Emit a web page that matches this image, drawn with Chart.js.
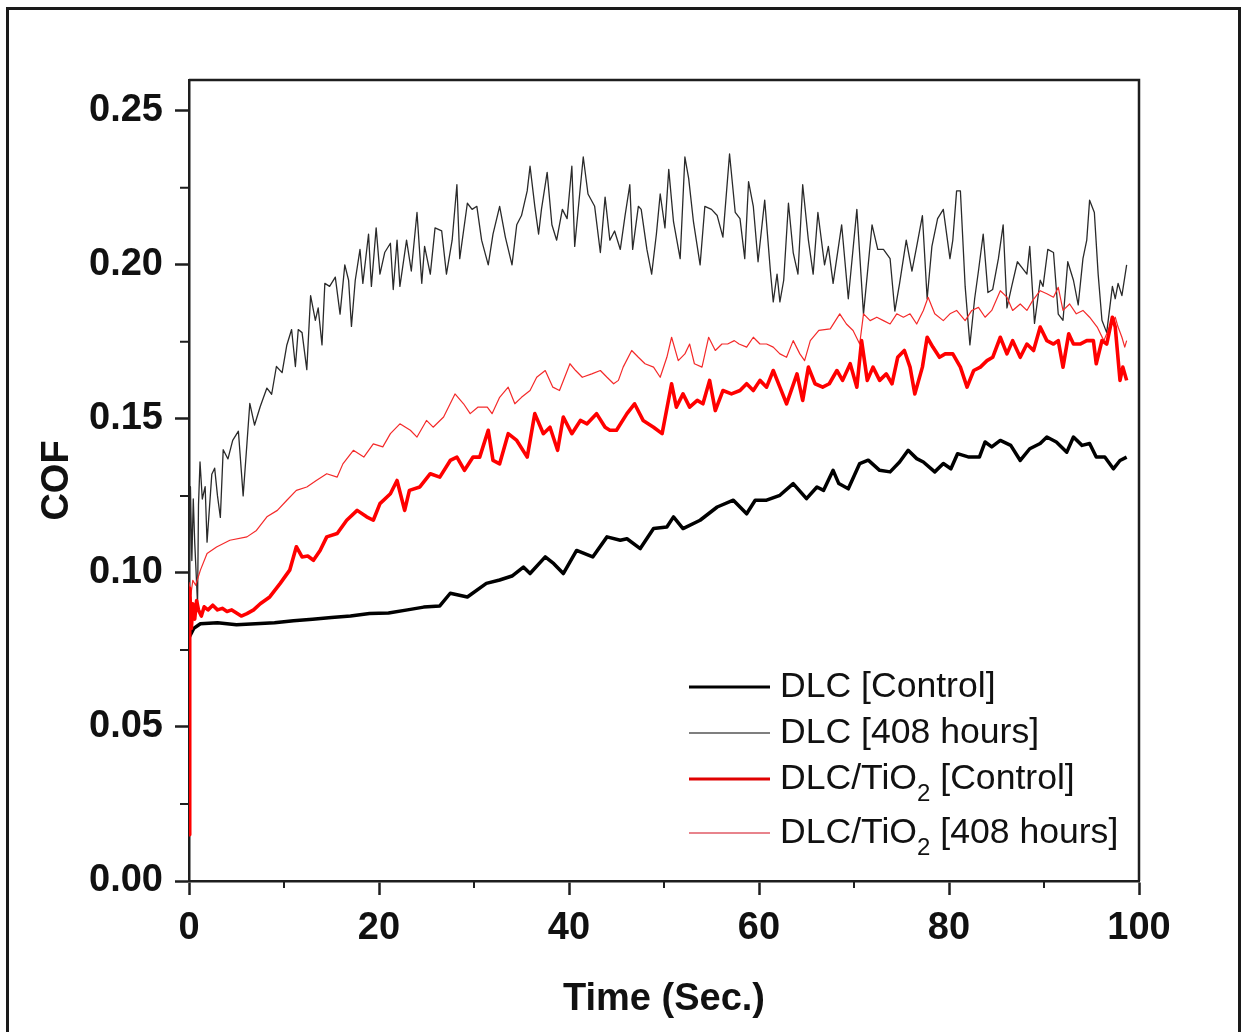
<!DOCTYPE html>
<html>
<head>
<meta charset="utf-8">
<script src="https://cdn.jsdelivr.net/npm/chart.js@4.4.1/dist/chart.umd.min.js"></script>
<style>
  body { margin: 0; background: #fff; }
  #wrap { position: relative; width: 1242px; height: 1032px; overflow: hidden; }
  #frame { position: absolute; left: 6px; top: 7px; width: 1229px; height: 1100px; border: 3px solid #1a1a1a; pointer-events: none; }
  canvas { position: absolute; left: 0; top: 0; }
</style>
</head>
<body>
<div id="wrap">
  <canvas id="cof" width="1242" height="1032"></canvas>
  <div id="frame"></div>
</div>
<script>
// tick labels / axis
const xTicks = [0, 20, 40, 60, 80, 100];
const yTicks = [0.00, 0.05, 0.10, 0.15, 0.20, 0.25];
const labels = ["DLC [Control]", "DLC [408 hours]", "DLC/TiO₂ [Control]", "DLC/TiO₂ [408 hours]"];

// DLC [Control]
const dlcCtrlTime = [0,0.5,1.2,3,5,7,9,11,13,15,17,19,21,23,24.7,26.4,27.5,29.3,31.3,32.7,
  34,35.2,35.9,37.5,38.4,39.4,40.8,42.5,44,45.4,46.1,47.5,48.9,50.3,51,52,53.8,55.6,57.3,58.7,
  59.6,60.8,62.2,63.6,65,66.1,66.8,67.8,68.4,69.4,70.6,71.5,72.7,73.8,74.8,75.7,76.6,77.3,78.5,79.4,
  80.2,80.9,82.1,83.2,83.8,84.5,85.4,86.5,87.5,88.5,89.6,90.3,91.3,92.4,93.1,94,94.8,95.5,96.4,97.3,98,98.7];
const dlcCtrlCOF = [0.079,0.082,0.0835,0.0838,0.0832,0.0835,0.0838,0.0845,0.085,0.0855,0.086,0.0868,0.087,0.088,0.0889,0.0893,0.0934,0.0922,0.0966,0.0977,
  0.099,0.1019,0.0998,0.1052,0.103,0.0998,0.1073,0.1052,0.1117,0.1106,0.1111,0.1079,0.1144,0.1149,0.1182,0.1144,0.1171,0.1214,0.1236,0.1192,
  0.1236,0.1236,0.1252,0.129,0.1241,0.1279,0.1268,0.1333,0.129,0.1273,0.1355,0.1366,0.1333,0.1328,0.136,0.1398,0.1371,0.136,0.1328,0.1355,
  0.1338,0.1387,0.1376,0.1376,0.1425,0.1409,0.143,0.1414,0.1365,0.1403,0.142,0.1441,0.1425,0.1392,0.1441,0.1414,0.142,0.1376,0.1376,0.1338,0.1365,0.1376];

// DLC [408 hours]
const dlc408Time = [0,0.15,0.3,0.45,0.6,0.9,1.0,1.16,1.4,1.7,1.9,2.4,2.7,3.0,3.3,3.6,4.1,4.6,5.2,5.7,
  6.1,6.4,6.9,7.5,8.2,8.7,9.2,9.8,10.3,10.8,11.2,11.5,11.9,12.4,12.8,13.3,13.6,14.0,14.3,14.8,
  15.4,15.9,16.4,16.8,17.1,17.5,18.0,18.3,18.9,19.2,19.7,20.1,20.6,21.2,21.5,21.9,22.2,22.9,23.4,24.0,
  24.5,24.8,25.4,25.9,26.6,27.1,27.7,28.2,28.5,29.3,29.8,30.3,30.8,31.5,32.0,32.7,33.3,34.0,34.5,35.0,
  35.6,35.9,36.4,36.8,37.1,37.7,38.2,38.7,39.3,39.8,40.3,40.6,41.0,41.5,42.0,42.7,43.3,43.8,44.3,44.8,
  45.4,45.9,46.4,46.7,47.3,47.6,48.2,48.7,49.2,49.6,50.1,50.5,51.0,51.7,52.2,52.6,53.1,53.8,54.3,55.0,
  55.6,56.2,56.9,57.5,58.0,58.5,58.9,59.4,59.9,60.6,61.2,61.5,61.9,62.2,62.6,63.1,63.6,64.1,64.6,65.2,
  65.7,66.2,66.9,67.3,67.8,68.7,69.4,70.3,71.0,71.9,72.5,73.1,73.8,74.3,74.8,75.5,76.1,76.6,77.2,77.7,
  78.2,78.8,79.4,80.1,80.4,80.8,81.2,81.7,82.2,82.7,83.1,83.6,84.1,84.6,85.2,85.7,86.1,86.6,87.2,87.7,
  88.2,88.5,89.0,89.6,89.9,90.4,91.0,91.5,92.0,92.5,93.1,93.6,94.1,94.5,94.8,95.3,95.7,96.1,96.6,97.2,
  97.5,97.8,98.2,98.7];
const dlc408COF = [0.095,0.128,0.104,0.124,0.110,0.090,0.122,0.136,0.124,0.128,0.110,0.132,0.134,0.125,0.118,0.140,0.137,0.143,0.146,0.125,
  0.142,0.155,0.148,0.154,0.160,0.158,0.167,0.165,0.174,0.179,0.167,0.179,0.178,0.166,0.190,0.182,0.186,0.174,0.194,0.193,
  0.196,0.184,0.200,0.195,0.180,0.195,0.205,0.194,0.210,0.193,0.212,0.197,0.204,0.207,0.192,0.208,0.193,0.208,0.198,0.217,
  0.194,0.206,0.197,0.212,0.211,0.197,0.208,0.226,0.202,0.220,0.218,0.219,0.208,0.200,0.210,0.219,0.209,0.200,0.213,0.216,
  0.224,0.232,0.219,0.210,0.218,0.230,0.213,0.208,0.218,0.215,0.232,0.206,0.219,0.235,0.223,0.219,0.204,0.222,0.208,0.211,
  0.205,0.216,0.226,0.205,0.219,0.218,0.205,0.197,0.210,0.223,0.212,0.231,0.214,0.202,0.235,0.228,0.214,0.200,0.219,0.218,
  0.216,0.209,0.236,0.217,0.215,0.202,0.227,0.219,0.201,0.221,0.198,0.188,0.197,0.188,0.195,0.220,0.204,0.197,0.226,0.208,
  0.197,0.217,0.200,0.206,0.194,0.213,0.189,0.218,0.184,0.213,0.205,0.205,0.202,0.185,0.194,0.208,0.198,0.206,0.216,0.189,
  0.206,0.215,0.218,0.202,0.208,0.224,0.224,0.193,0.174,0.189,0.198,0.210,0.191,0.192,0.202,0.213,0.186,0.193,0.201,0.199,
  0.197,0.206,0.181,0.195,0.193,0.205,0.204,0.184,0.182,0.201,0.195,0.187,0.202,0.208,0.221,0.217,0.197,0.182,0.178,0.193,
  0.189,0.194,0.190,0.200];

// DLC/TiO2 [Control]
const tioCtrlTime = [0,0.05,0.1,0.25,0.4,0.6,0.8,1.0,1.3,1.6,2.0,2.5,3.0,3.5,4.0,4.5,5.0,5.5,6.1,6.8,
  7.5,8.5,9.6,10.6,11.3,11.9,12.5,13.1,13.8,14.5,15.6,16.6,17.7,18.7,19.4,20.1,21.2,21.9,22.7,23.2,
  24.3,25.4,26.4,27.5,28.2,29.0,29.9,30.6,31.5,32.0,32.7,33.6,34.5,35.6,36.4,37.3,38.0,38.8,39.4,40.3,
  41.2,41.9,42.9,43.8,44.3,45.0,46.1,46.9,47.8,48.9,49.8,50.8,51.3,52.0,52.7,53.5,54.1,54.8,55.4,56.2,
  57.1,58.0,58.7,59.4,60.1,60.8,61.5,62.2,62.9,64.0,64.6,65.2,65.9,66.7,67.4,68.2,68.8,69.6,70.3,70.8,
  71.4,72.0,72.7,73.4,74.0,74.6,75.3,75.9,76.4,77.2,77.7,78.3,79.0,79.6,80.4,81.2,81.9,82.6,83.3,84.0,
  84.6,85.4,86.1,86.7,87.5,88.2,88.9,89.6,90.3,91.0,91.5,92.0,92.6,93.1,93.8,94.5,95.2,95.5,96.1,96.6,
  97.2,97.5,98.0,98.3,98.7];
const tioCtrlCOF = [0.015,0.060,0.095,0.082,0.090,0.085,0.091,0.088,0.086,0.089,0.088,0.0895,0.088,0.0885,0.0875,0.088,0.087,0.086,0.0868,0.088,
  0.090,0.0922,0.0966,0.1009,0.1085,0.1052,0.1055,0.1041,0.1073,0.1117,0.1128,0.1171,0.1203,0.1182,0.1171,0.1225,0.1257,0.130,0.1203,0.1268,
  0.1279,0.1322,0.1311,0.1365,0.1376,0.1333,0.1376,0.1376,0.1463,0.1365,0.1354,0.1452,0.143,0.1376,0.1517,0.1452,0.1473,0.1398,0.1506,0.1452,
  0.1495,0.1484,0.1517,0.1473,0.1463,0.1463,0.1517,0.1549,0.1495,0.1473,0.1452,0.1614,0.1538,0.1581,0.1538,0.156,0.1549,0.1625,0.1527,0.1592,
  0.1581,0.1592,0.1614,0.1592,0.1625,0.1603,0.1657,0.1603,0.1549,0.1646,0.156,0.1668,0.1614,0.1603,0.1614,0.1657,0.1625,0.1679,0.1603,0.1754,
  0.1625,0.1668,0.1625,0.1646,0.1614,0.170,0.1722,0.1668,0.1581,0.1668,0.1765,0.1733,0.170,0.1711,0.1711,0.1668,0.1603,0.1657,0.1668,0.1689,
  0.170,0.1765,0.1711,0.1754,0.170,0.1743,0.1722,0.1798,0.1754,0.1743,0.1754,0.1668,0.1776,0.1743,0.1743,0.1754,0.1754,0.1679,0.1754,0.1743,
  0.183,0.1798,0.1625,0.1668,0.1625];

// DLC/TiO2 [408 hours]
const tio408Time = [0,0.2,0.4,0.7,1.2,1.9,2.9,4.3,6.1,7.1,8.2,9.3,10.3,11.3,12.4,13.4,14.5,15.6,16.2,17.3,
  18.4,19.4,20.4,21.2,22.2,23.3,24.0,25.0,25.7,26.8,28.0,28.9,29.6,30.4,31.4,31.9,32.7,33.6,34.3,35.0,
  35.9,36.6,37.5,38.3,39.0,40.1,40.7,41.4,42.4,43.3,44.0,44.7,45.2,45.7,46.6,47.3,48.0,48.9,49.6,50.3,
  50.8,51.5,52.2,52.7,53.2,54.0,54.7,55.4,56.1,56.7,57.4,57.9,58.7,59.4,60.1,60.8,61.5,62.2,62.9,63.6,
  64.3,64.8,65.4,66.3,67.5,68.5,69.2,69.9,70.6,71.0,71.7,72.4,73.1,73.8,74.5,75.2,75.9,76.6,77.3,77.8,
  78.5,79.4,80.1,80.8,81.7,82.4,83.1,83.8,84.5,85.4,86.1,86.7,87.5,88.2,88.8,89.6,90.3,91.0,91.5,92.0,
  92.7,93.4,94.1,94.8,95.6,96.3,96.9,97.5,97.8,98.2,98.5,98.7];
const tio408COF = [0.097,0.093,0.0976,0.096,0.1009,0.1063,0.1084,0.1106,0.1117,0.1138,0.1182,0.1203,0.1236,0.1268,0.1279,0.130,0.1322,0.1311,0.1354,0.1398,
  0.1376,0.1419,0.1409,0.1452,0.1484,0.1463,0.1441,0.1495,0.1473,0.1506,0.1581,0.1549,0.1517,0.1538,0.1538,0.1517,0.157,0.1603,0.1549,0.157,
  0.1592,0.1635,0.1657,0.1603,0.1592,0.1679,0.1657,0.1635,0.1646,0.1657,0.1635,0.1614,0.1625,0.1668,0.1722,0.170,0.1679,0.1668,0.1635,0.170,
  0.1765,0.1689,0.1711,0.1743,0.1679,0.1668,0.1765,0.1722,0.1743,0.1743,0.1754,0.1743,0.1733,0.1765,0.1743,0.1743,0.1733,0.1711,0.170,0.1754,
  0.1711,0.1689,0.1754,0.1787,0.1792,0.1841,0.1808,0.1787,0.1743,0.1841,0.1819,0.183,0.1819,0.1808,0.1841,0.183,0.1841,0.1808,0.1852,0.1895,
  0.1841,0.1819,0.1841,0.1852,0.1819,0.1852,0.1862,0.183,0.1852,0.1916,0.1895,0.1852,0.1873,0.1852,0.1884,0.1916,0.1906,0.1895,0.1927,0.1852,
  0.1873,0.1841,0.1852,0.183,0.1798,0.1754,0.1798,0.183,0.1798,0.1765,0.1733,0.1754];

function pts(t, v) {
  const n = Math.min(t.length, v.length);
  const out = [];
  for (let i = 0; i < n; i++) out.push({ x: t[i], y: v[i] });
  return out;
}

const AXIS = "#1e1e1e";
const FONT = "'Liberation Sans', Arial, sans-serif";

// minor ticks, top/right frame of the plot, legend with subscript
const extras = {
  id: "extras",
  afterDraw(chart) {
    const ctx = chart.ctx;
    const a = chart.chartArea;
    const xs = chart.scales.x, ys = chart.scales.y;
    ctx.save();
    ctx.strokeStyle = AXIS;
    ctx.lineWidth = 2.5;
    ctx.beginPath();
    ctx.moveTo(a.left, a.top);
    ctx.lineTo(a.right, a.top);
    ctx.lineTo(a.right, a.bottom);
    ctx.stroke();
    ctx.lineWidth = 2;
    ctx.beginPath();
    for (let v = 10; v < 100; v += 20) {
      const px = xs.getPixelForValue(v);
      ctx.moveTo(px, a.bottom);
      ctx.lineTo(px, a.bottom + 7);
    }
    for (let v = 0.025; v < 0.26; v += 0.05) {
      const py = ys.getPixelForValue(v);
      ctx.moveTo(a.left, py);
      ctx.lineTo(a.left - 9, py);
    }
    ctx.stroke();

    // legend
    const rowOffsets = [194, 148, 102, 48];
    const lineX0 = a.left + 500, lineX1 = a.left + 581, textX = a.left + 591;
    chart.data.datasets.forEach((ds, i) => {
      const y = a.bottom - rowOffsets[i];
      ctx.strokeStyle = ds.legendColor || ds.borderColor;
      ctx.lineWidth = ds.legendWidth || ds.borderWidth;
      ctx.beginPath();
      ctx.moveTo(lineX0, y);
      ctx.lineTo(lineX1, y);
      ctx.stroke();
      ctx.fillStyle = "#111";
      ctx.textBaseline = "middle";
      ctx.textAlign = "left";
      const parts = ds.label.split("₂");
      let x = textX;
      parts.forEach((p, k) => {
        ctx.font = "35.6px " + FONT;
        ctx.fillText(p, x, y);
        x += ctx.measureText(p).width;
        if (k < parts.length - 1) {
          ctx.font = "24px " + FONT;
          ctx.fillText("2", x, y + 15);
          x += ctx.measureText("2").width;
        }
      });
    });
    ctx.restore();
  }
};

new Chart(document.getElementById("cof"), {
  type: "line",
  data: {
    datasets: [
      { label: labels[0], data: pts(dlcCtrlTime, dlcCtrlCOF), borderColor: "#000", borderWidth: 3.5, legendWidth: 3, order: 1 },
      { label: labels[1], data: pts(dlc408Time, dlc408COF), borderColor: "#2a2a2a", borderWidth: 1.3, legendColor: "#555", legendWidth: 1.5, order: 3 },
      { label: labels[2], data: pts(tioCtrlTime, tioCtrlCOF), borderColor: "#ff0000", borderWidth: 3.6, legendColor: "#e00000", legendWidth: 3, order: 0 },
      { label: labels[3], data: pts(tio408Time, tio408COF), borderColor: "#f42a2a", borderWidth: 1.2, legendColor: "#e05a66", legendWidth: 1.5, order: 2 }
    ]
  },
  options: {
    responsive: false,
    animation: false,
    devicePixelRatio: 1,
    layout: { padding: { left: 0, top: 80, right: 103, bottom: 0 } },
    elements: { point: { radius: 0 }, line: { tension: 0, borderJoinStyle: "round" } },
    plugins: { legend: { display: false }, tooltip: { enabled: false } },
    scales: {
      x: {
        type: "linear",
        min: 0,
        max: 100,
        afterFit: (s) => { s.height = 151; },
        afterBuildTicks: (s) => { s.ticks = xTicks.map((v) => ({ value: v })); },
        ticks: { color: "#111", padding: 11, font: { family: FONT, size: 38, weight: "bold" }, maxRotation: 0 },
        grid: { drawOnChartArea: false, drawTicks: true, tickLength: 14, tickWidth: 2.5, tickColor: AXIS },
        border: { display: true, color: AXIS, width: 2.5 },
        title: { display: true, text: "Time (Sec.)", color: "#111", font: { family: FONT, size: 38, weight: "bold" }, padding: { top: 0, bottom: 10 } }
      },
      y: {
        type: "linear",
        min: 0,
        max: 0.26,
        afterFit: (s) => { s.width = 189; },
        afterBuildTicks: (s) => { s.ticks = yTicks.map((v) => ({ value: v })); },
        ticks: { color: "#111", padding: 12, font: { family: FONT, size: 38, weight: "bold" }, callback: (v) => Number(v).toFixed(2) },
        grid: { drawOnChartArea: false, drawTicks: true, tickLength: 14, tickWidth: 2.5, tickColor: AXIS },
        border: { display: true, color: AXIS, width: 2.5 },
        title: { display: true, text: "COF", color: "#111", font: { family: FONT, size: 38, weight: "bold" }, padding: { top: 35, bottom: 0 } }
      }
    }
  },
  plugins: [extras]
});
</script>
</body>
</html>
